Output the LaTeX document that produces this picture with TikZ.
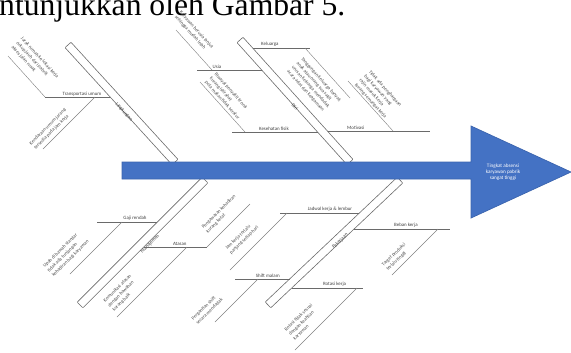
\documentclass[tikz,border=0pt]{standalone}
\usepackage{fontspec}
\setmainfont{Liberation Serif}
\newfontfamily\diagfont{Carlito}
\definecolor{fishblue}{HTML}{4472C4}
\definecolor{fishedge}{HTML}{3B64AE}
\definecolor{linegray}{HTML}{6A6A6A}
\tikzset{
  bone/.style={draw=linegray, fill=white, line width=0.5pt, minimum height=0.24cm, inner sep=0pt, rounded corners=0.6pt},
  cause/.style={draw=linegray, line width=0.6pt},
  twigline/.style={draw=linegray!85, line width=0.35pt},
  lbl/.style={font=\diagfont\fontsize{4.2}{4.6}\selectfont, text=black!75, inner sep=0.7pt, anchor=south},
  bonelbl/.style={font=\diagfont\fontsize{4.2}{4.6}\selectfont, text=black!75, inner sep=0pt},
  twig/.style={font=\diagfont\fontsize{4.2}{5.4}\selectfont, text=black!70, align=left, inner sep=0pt},
}
\begin{document}
\begin{tikzpicture}[x=0.03cm, y=-0.03cm]
\useasboundingbox (0,0) rectangle (571,352);
\clip (0,0) rectangle (571,352);

\node[anchor=base west, font=\fontsize{27}{30}\selectfont, inner sep=0pt] (intro) at (-1,15) {ntunjukkan oleh Gambar 5.};

% bones
\node[bone, minimum width=4.76cm, rotate=-47.6] (ub1) at (121.5,103.5) {};
\node[bone, minimum width=4.93cm, rotate=-48] (ub2) at (295,101) {};
\node[bone, minimum width=5.30cm, rotate=45] (lb1) at (142.5,242.5) {};
\node[bone, minimum width=5.45cm, rotate=43.4] (lb2) at (334,242.5) {};
\node[bonelbl, rotate=-47.6] (ub1l) at (124,112) {Lingkungan};
\node[bonelbl, rotate=-48] (ub2l) at (295,107) {Diri};
\node[bonelbl, rotate=45] (lb1l) at (150,244) {Manajemen};
\node[bonelbl, rotate=43.4] (lb2l) at (340,241) {Pekerjaan};

% spine and head
\draw[fill=fishblue, draw=fishedge, line width=0.6pt] (122,162) -- (471,162) -- (471,126) -- (571,172)
  -- (471,218) -- (471,179) -- (122,179) -- cycle;
\node[font=\diagfont\fontsize{4.4}{5.4}\selectfont, text=white, align=center] (effect) at (503,172)
  {Tingkat absensi\\karyawan pabrik\\sangat tinggi};

% upper left bone
\coordinate (tr0) at (45,97); \coordinate (tr1) at (110,97); \coordinate (tr2) at (95,97);
\draw[cause] (tr0) -- (tr1) node[lbl, pos=0.57] {Transportasi umum};
\coordinate (k1) at (8,56); \coordinate (k2) at (43,149);
\draw[twigline] (tr0) -- (k1);
\draw[twigline] (tr2) -- (k2);
\node[twig, rotate=-47.6] (c1) at (35,62) {Jarak rumah ke lokasi kerja\\cukup jauh dari pabrik\\akses jalan rusak};
\node[twig, rotate=45] (c2) at (50,129) {Kendaraan umum jarang\\tersedia pada jam kerja};

% upper right bone
\coordinate (kl0) at (252.6,48); \coordinate (kl1) at (310,48); \coordinate (kl2) at (305,48);
\coordinate (us0) at (197,70); \coordinate (us1) at (261.6,70); \coordinate (us2) at (212,70);
\coordinate (ks0) at (232,132); \coordinate (ks1) at (317.5,132); \coordinate (ks2) at (245,132);
\coordinate (mo0) at (328.3,131); \coordinate (mo1) at (430,131); \coordinate (mo2) at (393,131);
\draw[cause] (kl0) -- (kl1) node[lbl, pos=0.3] {Keluarga};
\draw[cause] (us0) -- (us1) node[lbl, pos=0.31] {Usia};
\draw[cause] (ks0) -- (ks1) node[lbl, pos=0.49] {Kesehatan fisik};
\draw[cause] (mo0) -- (mo1) node[lbl, pos=0.27] {Motivasi};
\coordinate (k3) at (176,30); \coordinate (k4) at (200,82);
\coordinate (k5) at (350,98); \coordinate (k7) at (348,81);
\draw[twigline] (us2) -- (k3);
\draw[twigline] (ks2) -- (k4);
\draw[twigline] (kl2) -- (k5);
\draw[twigline] (mo2) -- (k7);
\node[twig, rotate=-48] (c3) at (194,32) {Karyawan berusia lanjut\\sehingga mudah lelah};
\node[twig, rotate=-48] (c4) at (227,96) {Riwayat penyakit kronis\\kurang istirahat\\pola makan tidak teratur};
\node[twig, rotate=-48] (c5) at (314,86) {Tanggungan keluarga banyak\\anak atau orang tua sakit\\urusan keluarga mendadak\\acara adat dan keagamaan};
\node[twig, rotate=-48] (c7) at (378,95) {Tidak ada penghargaan\\bagi karyawan yang\\rajin masuk kerja\\kurang semangat kerja};

% lower left bone
\coordinate (gj0) at (97,222); \coordinate (gj1) at (157.3,222); \coordinate (gj2) at (122,222);
\coordinate (at0) at (143.7,247); \coordinate (at1) at (207,247); \coordinate (at2) at (187,247);
\draw[cause] (gj0) -- (gj1) node[lbl, pos=0.63] {Gaji rendah};
\draw[cause] (at0) -- (at1) node[lbl, pos=0.57] {Atasan};
\coordinate (k8) at (70,274); \coordinate (k9) at (117,317); \coordinate (k10) at (250,204);
\draw[twigline] (gj2) -- (k8);
\draw[twigline] (at2) -- (k9);
\draw[twigline] (at1) -- (k10);
\node[twig, rotate=45] (c8) at (66,254) {Upah di bawah standar\\tidak ada tunjangan\\kehadiran bagi karyawan};
\node[twig, rotate=45] (c9) at (122,293) {Komunikasi atasan\\dengan bawahan\\kurang baik};
\node[twig, rotate=45] (c10) at (221,214) {Pengawasan kehadiran\\kurang ketat};

% lower right bone
\coordinate (jd0) at (280,213); \coordinate (jd1) at (359.4,213); \coordinate (jd2) at (287,213);
\coordinate (bb0) at (354.1,229); \coordinate (bb1) at (450,229); \coordinate (bb2) at (438,229);
\coordinate (sf0) at (235,279); \coordinate (sf1) at (289.7,279); \coordinate (sf2) at (258,279);
\coordinate (rt0) at (291.8,288); \coordinate (rt1) at (363,288); \coordinate (rt2) at (357,288);
\draw[cause] (jd0) -- (jd1) node[lbl, pos=0.63] {Jadwal kerja \& lembur};
\draw[cause] (bb0) -- (bb1) node[lbl, pos=0.54] {Beban kerja};
\draw[cause] (sf0) -- (sf1) node[lbl, pos=0.6] {Shift malam};
\draw[cause] (rt0) -- (rt1) node[lbl, pos=0.6] {Rotasi kerja};
\coordinate (k11) at (230,270); \coordinate (k12) at (215,322);
\coordinate (k13) at (295,350); \coordinate (k14) at (392,275);
\draw[twigline] (jd2) -- (k11);
\draw[twigline] (sf2) -- (k12);
\draw[twigline] (rt2) -- (k13);
\draw[twigline] (bb2) -- (k14);
\node[twig, rotate=44] (c11) at (242,238) {Jam kerja terlalu\\panjang setiap hari};
\node[twig, rotate=44] (c12) at (207,309) {Pergantian shift\\secara mendadak};
\node[twig, rotate=44] (c13) at (303,322) {Rotasi tidak sesuai\\dengan keahlian\\karyawan};
\node[twig, rotate=44] (c14) at (396,257) {Target produksi\\terlalu tinggi};
\end{tikzpicture}
\end{document}
